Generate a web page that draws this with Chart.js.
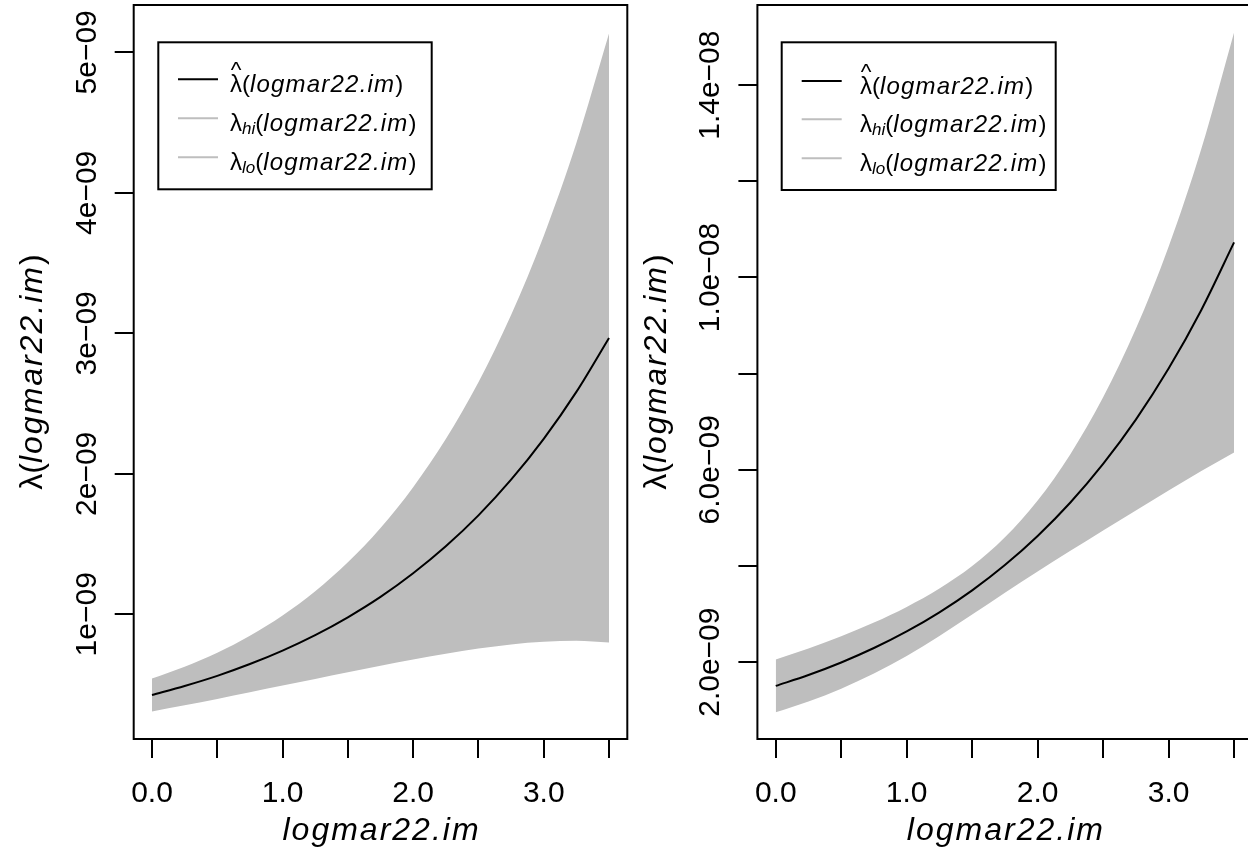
<!DOCTYPE html>
<html>
<head>
<meta charset="utf-8">
<script src="https://cdn.jsdelivr.net/npm/chart.js@4.4.1/dist/chart.umd.min.js"></script>
<style>
html,body{margin:0;padding:0;background:#fff;overflow:hidden;width:1248px;height:851px;}
.panel{position:absolute;top:0;height:851px;}
#w1{left:0;width:640px;}
#w2{left:640px;width:620px;}
</style>
</head>
<body>
<div id="w1" class="panel"><canvas id="c1" width="640" height="851"></canvas></div>
<div id="w2" class="panel"><canvas id="c2" width="620" height="851"></canvas></div>
<script>
// ---- data ----
const xVals = [0, 0.25, 0.5, 0.75, 1.0, 1.25, 1.5, 1.75, 2.0, 2.25, 2.5, 2.75, 3.0, 3.25, 3.5];

const leftHat = [0.426e-9, 0.490e-9, 0.562e-9, 0.646e-9, 0.742e-9, 0.852e-9, 0.979e-9, 1.124e-9, 1.292e-9, 1.484e-9, 1.704e-9, 1.958e-9, 2.249e-9, 2.583e-9, 2.967e-9];
const leftHi  = [0.543e-9, 0.627e-9, 0.726e-9, 0.847e-9, 0.991e-9, 1.164e-9, 1.370e-9, 1.614e-9, 1.905e-9, 2.248e-9, 2.652e-9, 3.130e-9, 3.693e-9, 4.355e-9, 5.135e-9];
const leftLo  = [0.309e-9, 0.353e-9, 0.398e-9, 0.445e-9, 0.493e-9, 0.540e-9, 0.588e-9, 0.634e-9, 0.679e-9, 0.720e-9, 0.756e-9, 0.786e-9, 0.805e-9, 0.811e-9, 0.799e-9];

const rightHat = [1.506e-9, 1.733e-9, 1.994e-9, 2.294e-9, 2.639e-9, 3.037e-9, 3.494e-9, 4.020e-9, 4.625e-9, 5.321e-9, 6.123e-9, 7.044e-9, 8.105e-9, 9.325e-9, 10.729e-9];
const rightHi  = [2.056e-9, 2.285e-9, 2.539e-9, 2.824e-9, 3.148e-9, 3.531e-9, 3.998e-9, 4.596e-9, 5.363e-9, 6.326e-9, 7.507e-9, 8.933e-9, 10.640e-9, 12.676e-9, 15.096e-9];
const rightLo  = [0.956e-9, 1.181e-9, 1.449e-9, 1.764e-9, 2.130e-9, 2.544e-9, 2.990e-9, 3.444e-9, 3.887e-9, 4.316e-9, 4.739e-9, 5.156e-9, 5.570e-9, 5.975e-9, 6.362e-9];

const xTickVals   = [0, 0.5, 1.0, 1.5, 2.0, 2.5, 3.0, 3.5];
const xTickLabels = ["0.0", "", "1.0", "", "2.0", "", "3.0", ""];

const leftYTickVals   = [1e-9, 2e-9, 3e-9, 4e-9, 5e-9];
const leftYTickLabels = ["1e\u221209", "2e\u221209", "3e\u221209", "4e\u221209", "5e\u221209"];

const rightYTickVals   = [2e-9, 4e-9, 6e-9, 8e-9, 10e-9, 12e-9, 14e-9];
const rightYTickLabels = ["2.0e\u221209", "", "6.0e\u221209", "", "1.0e\u221208", "", "1.4e\u221208"];

const axisTitleX = "logmar22.im";
const legendVar = "logmar22.im";

// ---- styling / helpers ----
const FONT = '"Liberation Sans", Arial, Helvetica, sans-serif';
const BAND = '#BEBEBE';

function drawRich(ctx, pieces, x, y, align) {
  let total = 0;
  const ws = pieces.map(p => {
    ctx.font = p.font;
    ctx.letterSpacing = (p.ls || 0) + 'px';
    const w = ctx.measureText(p.t).width;
    total += w;
    return w;
  });
  let cx = align === 'center' ? x - total / 2 : x;
  ctx.textAlign = 'left';
  ctx.textBaseline = 'alphabetic';
  pieces.forEach((p, i) => {
    ctx.font = p.font;
    ctx.letterSpacing = (p.ls || 0) + 'px';
    ctx.fillText(p.t, cx, y + (p.dy || 0));
    if (p.hat) {
      ctx.letterSpacing = '0px';
      ctx.font = p.hatFont;
      ctx.textAlign = 'center';
      ctx.fillText('^', cx + ws[i] / 2, y - p.hatUp);
      ctx.textAlign = 'left';
    }
    cx += ws[i];
  });
  ctx.letterSpacing = '0px';
}

function titlePieces(size, ls) {
  return [
    {t: 'λ', font: size + 'px ' + FONT},
    {t: '(', font: size + 'px ' + FONT},
    {t: legendVar, font: 'italic ' + size + 'px ' + FONT, ls: ls},
    {t: ')', font: size + 'px ' + FONT}
  ];
}

function legendPieces(kind) {
  const S = 24, ls = 1.2;
  const base = [];
  if (kind === 'hat') {
    base.push({t: 'λ', font: S + 'px ' + FONT, hat: true, hatFont: (S * 0.95) + 'px ' + FONT, hatUp: S * 0.6});
  } else {
    base.push({t: 'λ', font: S + 'px ' + FONT});
    base.push({t: kind, font: 'italic 17px ' + FONT, dy: 3});
  }
  base.push({t: '(', font: S + 'px ' + FONT});
  base.push({t: legendVar, font: 'italic ' + S + 'px ' + FONT, ls: ls});
  base.push({t: ')', font: S + 'px ' + FONT});
  return base;
}

function makePanel(id, g, hat, hi, lo, yMin, yMax, yTickVals, yTickLabels) {
  const rPlugin = {
    id: 'rstyle',
    afterDraw(chart) {
      const ctx = chart.ctx;
      const a = chart.chartArea;
      const xs = chart.scales.x, ys = chart.scales.y;
      ctx.save();
      // box
      ctx.strokeStyle = '#000';
      ctx.lineWidth = 2;
      ctx.strokeRect(a.left, a.top, a.right - a.left, a.bottom - a.top);
      // x tick labels
      ctx.fillStyle = '#000';
      ctx.font = '30px ' + FONT;
      ctx.textAlign = 'center';
      ctx.textBaseline = 'alphabetic';
      xTickVals.forEach((v, i) => {
        if (xTickLabels[i]) ctx.fillText(xTickLabels[i], xs.getPixelForValue(v), 802);
      });
      // y tick labels (rotated, R style)
      yTickVals.forEach((v, i) => {
        if (!yTickLabels[i]) return;
        const py = ys.getPixelForValue(v);
        ctx.save();
        ctx.translate(g.yLabX, py);
        ctx.rotate(-Math.PI / 2);
        ctx.font = '30px ' + FONT;
        ctx.textAlign = 'center';
        ctx.textBaseline = 'alphabetic';
        ctx.fillText(yTickLabels[i], 0, 0);
        ctx.restore();
      });
      // x title
      drawRich(ctx, [{t: axisTitleX, font: 'italic 32px ' + FONT, ls: 2}], (a.left + a.right) / 2 + 1, 840, 'center');
      // y title
      ctx.save();
      ctx.translate(g.yTitleX, (a.top + a.bottom) / 2);
      ctx.rotate(-Math.PI / 2);
      drawRich(ctx, titlePieces(32, 2), 0, 0, 'center');
      ctx.restore();
      // legend
      const L = g.legend;
      ctx.strokeStyle = '#000';
      ctx.lineWidth = 2;
      ctx.strokeRect(L.x0, L.y0, L.x1 - L.x0, L.y1 - L.y0);
      const rows = [
        {color: '#000', kind: 'hat'},
        {color: BAND, kind: 'hi'},
        {color: BAND, kind: 'lo'}
      ];
      rows.forEach((r, i) => {
        const yy = L.rowY[i];
        ctx.strokeStyle = r.color;
        ctx.lineWidth = 2;
        ctx.beginPath();
        ctx.moveTo(L.lx0, yy);
        ctx.lineTo(L.lx1, yy);
        ctx.stroke();
        ctx.fillStyle = '#000';
        drawRich(ctx, legendPieces(r.kind), L.tx, yy + 12.5, 'left');
      });
      ctx.restore();
    }
  };

  return new Chart(document.getElementById(id), {
    type: 'line',
    data: {
      datasets: [
        {label: 'hat', data: xVals.map((x, i) => ({x: x, y: hat[i]})), borderColor: '#000', borderWidth: 2, pointRadius: 0, fill: false, cubicInterpolationMode: 'monotone'},
        {label: 'hi', data: xVals.map((x, i) => ({x: x, y: hi[i]})), borderColor: BAND, borderWidth: 0, backgroundColor: BAND, pointRadius: 0, fill: '+1', cubicInterpolationMode: 'monotone'},
        {label: 'lo', data: xVals.map((x, i) => ({x: x, y: lo[i]})), borderColor: BAND, borderWidth: 0, backgroundColor: BAND, pointRadius: 0, fill: false, cubicInterpolationMode: 'monotone'}
      ]
    },
    options: {
      responsive: false,
      animation: false,
      devicePixelRatio: 1,
      layout: {padding: {top: g.top, right: g.padRight, left: 0, bottom: 0}},
      plugins: {legend: {display: false}, tooltip: {enabled: false}},
      scales: {
        x: {
          type: 'linear', min: -0.14, max: 3.64,
          afterBuildTicks: s => { s.ticks = xTickVals.map(v => ({value: v})); },
          ticks: {display: false},
          grid: {display: true, drawOnChartArea: false, drawTicks: true, tickLength: 19, color: '#000', lineWidth: 2},
          border: {display: false},
          afterFit: s => { s.height = g.xAxisH; }
        },
        y: {
          type: 'linear', min: yMin, max: yMax,
          afterBuildTicks: s => { s.ticks = yTickVals.map(v => ({value: v})); },
          ticks: {display: false},
          grid: {display: true, drawOnChartArea: false, drawTicks: true, tickLength: 19, color: '#000', lineWidth: 2},
          border: {display: false},
          afterFit: s => { s.width = g.yAxisW; }
        }
      }
    },
    plugins: [rPlugin]
  });
}

makePanel('c1', {
  top: 5, padRight: 640 - 627.3, xAxisH: 851 - 739, yAxisW: 133.7,
  yLabX: 96, yTitleX: 42,
  legend: {x0: 158.3, y0: 42.3, x1: 431.7, y1: 189.3, lx0: 178, lx1: 218, tx: 230, rowY: [79.3, 118.3, 157.3]}
}, leftHat, leftHi, leftLo, 1.125e-10, 5.337e-9, leftYTickVals, leftYTickLabels);

makePanel('c2', {
  top: 5, padRight: 620 - 612.4, xAxisH: 851 - 739, yAxisW: 117.4,
  yLabX: 79, yTitleX: 26,
  legend: {x0: 141.7, y0: 42.3, x1: 415.7, y1: 190, lx0: 161.7, lx1: 201.7, tx: 220, rowY: [81, 119.3, 158.3]}
}, rightHat, rightHi, rightLo, 4.02e-10, 1.5667e-8, rightYTickVals, rightYTickLabels);
</script>
</body>
</html>
